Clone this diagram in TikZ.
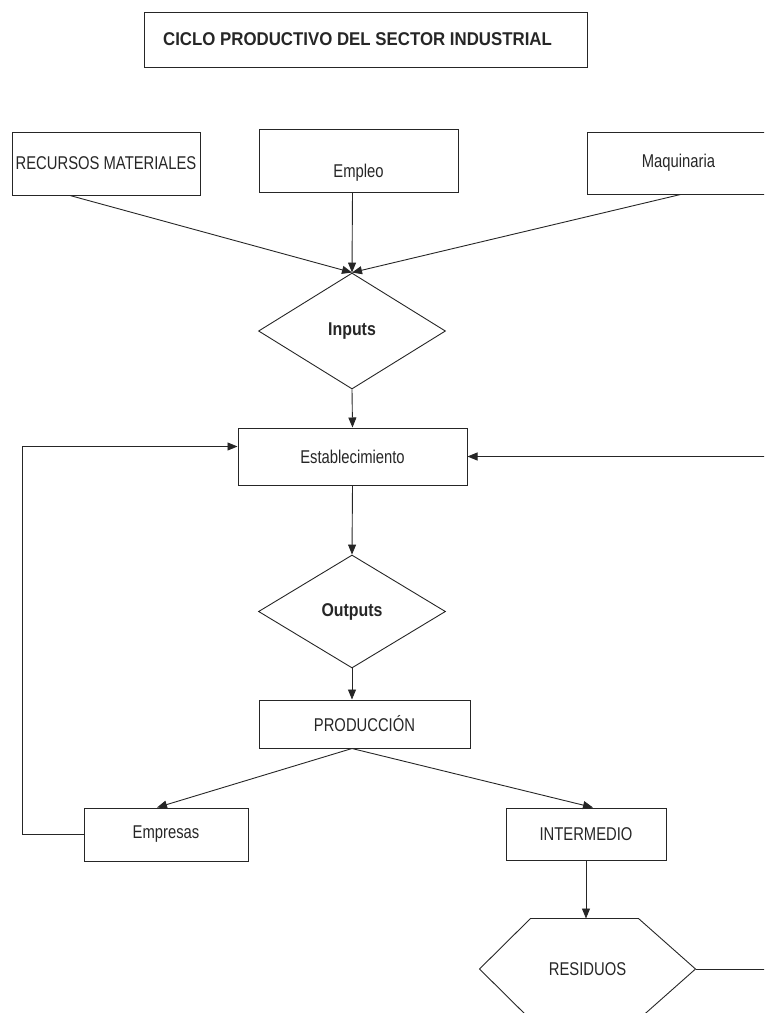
\documentclass[tikz,border=0pt]{standalone}
\usepackage{fontspec}
\setmainfont{Liberation Sans}[FakeStretch=0.8]
\newfontfamily\negrita{Liberation Sans}[FakeStretch=0.86]
\newfontfamily\negritaancha{Liberation Sans}[FakeStretch=0.91]
\usetikzlibrary{shapes.geometric,arrows.meta}

\tikzstyle{caja}=[shape=rectangle,draw=black!85,line width=1pt,inner sep=2pt,text=black!85,font=\fontsize{18.5}{20}\selectfont]
\tikzstyle{rombo}=[shape=diamond,draw=black!85,line width=0.9pt,inner sep=0pt,text=black!85,font=\negrita\bfseries\fontsize{18.5}{20}\selectfont]
\tikzstyle{flecha}=[-{Triangle[length=10pt,width=8pt]},line width=0.9pt,draw=black!85]
\tikzstyle{linea}=[line width=0.9pt,draw=black!85]

\begin{document}
\begin{tikzpicture}[x=1pt,y=-1pt]
        \useasboundingbox (0,0) rectangle (764,1013);
        \clip (0,0) rectangle (764,1013);

        % titulo
        \node[caja,minimum width=443pt,minimum height=55pt,font=\negritaancha\bfseries\fontsize{18.5}{20}\selectfont] (titulo) at (365.5,39.5) {CICLO PRODUCTIVO DEL SECTOR INDUSTRIAL\hspace*{16pt}};

        % entradas
        \node[caja,minimum width=188pt,minimum height=63pt] (recursos) at (106,163.5) {RECURSOS MATERIALES};
        \node[caja,minimum width=199pt,minimum height=63pt,text height=37pt,text depth=4pt] (empleo) at (358.5,160.5) {Empleo};
        \node[caja,minimum width=183pt,minimum height=62pt] (maquinaria) at (678.5,163) {Maquinaria};

        \node[rombo,minimum width=187pt,minimum height=116pt] (inputs) at (352,331) {Inputs};
        \node[caja,minimum width=229pt,minimum height=57pt] (establecimiento) at (352.5,456.5) {Establecimiento};
        \node[rombo,minimum width=187pt,minimum height=113pt] (outputs) at (352,611.5) {Outputs};
        \node[caja,minimum width=211pt,minimum height=48pt] (produccion) at (364.5,724) {PRODUCCIÓN};

        % salidas
        \node[caja,minimum width=164pt,minimum height=53pt] (empresas) at (166,834.5) {Empresas};
        \node[caja,minimum width=160pt,minimum height=52pt] (intermedio) at (586,834) {INTERMEDIO};
        \node[caja,draw=none,minimum width=215pt,minimum height=100pt] (residuos) at (587.5,969) {RESIDUOS};
        \draw[linea] (residuos.west) -- ([xshift=51pt]residuos.north west) -- ([xshift=-57pt]residuos.north east)
            -- (residuos.east) -- ([xshift=-57pt]residuos.south east) -- ([xshift=51pt]residuos.south west) -- cycle;

        \draw[flecha] ([xshift=-36pt]recursos.south) -- (inputs.north);
        \draw[flecha] ([xshift=-6pt]empleo.south) -- (inputs.north);
        \draw[flecha] ([xshift=2pt]maquinaria.south) -- (inputs.north);

        \draw[flecha] (inputs.south) -- (establecimiento.north);
        \draw[flecha] (establecimiento.south) -- (outputs.north);
        \draw[flecha] (outputs.south) -- (outputs.south |- produccion.north);

        \draw[flecha] (produccion.south -| outputs.south) -- ([xshift=-9pt]empresas.north);
        \draw[flecha] (produccion.south -| outputs.south) -- ([xshift=7pt]intermedio.north);
        \draw[flecha] (intermedio.south) -- (intermedio.south |- residuos.north);

        % retornos
        \draw[flecha] (empresas.west) -- ++(-61,0) |- ([yshift=10pt]establecimiento.west);
        \draw[flecha] (residuos.east) -- ++(90,0) |- (establecimiento.east);
    \end{tikzpicture}
\end{document}
